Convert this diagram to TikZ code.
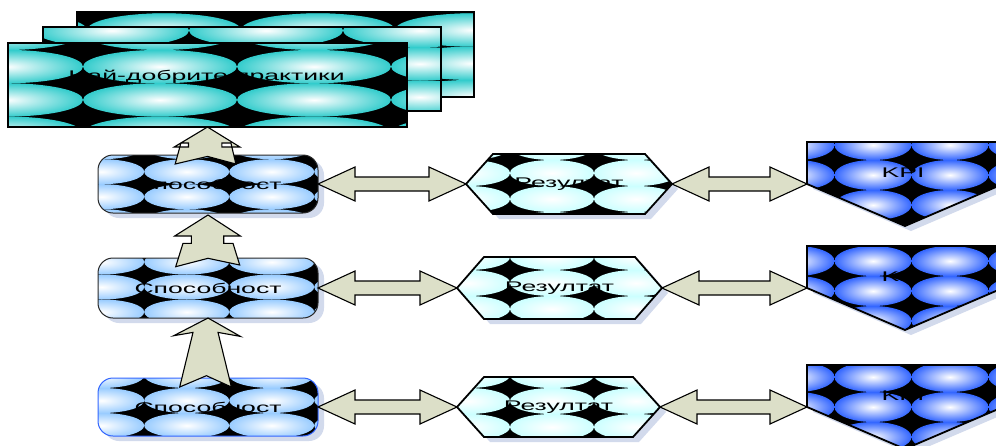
\documentclass[tikz,border=0pt]{standalone}
\usepackage{fontspec}
\newfontfamily\lblfont[FakeStretch=1.9]{Liberation Sans}
\usetikzlibrary{calc}
\definecolor{teal1}{RGB}{51,204,204}
\definecolor{capblue}{RGB}{153,204,255}
\definecolor{hexcyan}{RGB}{204,255,255}
\definecolor{kpiblue}{RGB}{51,102,255}
\definecolor{arrowfill}{RGB}{220,223,200}
\definecolor{shadowcol}{RGB}{210,218,236}
\definecolor{capedge}{RGB}{40,40,40}
\definecolor{capedgeblue}{RGB}{51,102,255}

\tikzset{
  geom/.style={inner sep=0pt, outer sep=0pt, draw=none},
  lbl/.style={inner sep=0pt, font=\lblfont\fontsize{14}{16}\selectfont, text=black},
  blockarrow/.style={draw=black, line width=1.1pt, fill=arrowfill, line join=miter},
  shapeline/.style={draw=black, line width=1.8pt},
}

\newcommand{\setgrid}[5]{\def\gdx{#1}\def\gdy{#2}\def\grx{#3}\def\gry{#4}\def\gcol{#5}}
\newcommand{\ellgrid}[4]{%
  \foreach \gi in {0,...,#3}{%
    \foreach \gj in {0,...,#4}{%
      \shade[inner color=white, outer color=\gcol] ({#1+\gi*\gdx},{#2+\gj*\gdy}) ellipse [x radius=\grx, y radius=\gry];
    }}}

\newcommand{\rectpath}[2]{\path[#2] (#1.north west) rectangle (#1.south east);}
\newcommand{\cappath}[2]{\path[#2, rounded corners=15pt] (#1.north west) rectangle (#1.south east);}
\newcommand{\hexpath}[2]{\path[#2] (#1.west) -- ($(#1.north west)+(27,0)$) -- ($(#1.north east)+(-27,0)$) -- (#1.east) -- ($(#1.south east)+(-27,0)$) -- ($(#1.south west)+(27,0)$) -- cycle;}
\newcommand{\kpipath}[2]{\path[#2] (#1.north west) -- (#1.north east) -- (#1.east) -- (#1.south) -- (#1.west) -- cycle;}

\newcommand{\patshape}[6]{%
  \begin{scope}#1{#2}{clip}\fill[black] (#2.north west) rectangle (#2.south east);\ellgrid{#3}{#4}{#5}{#6}\end{scope}}

\newcommand{\dblarrow}[2]{%
  \path[blockarrow] let \p1=(#1), \p2=(#2) in
    (\x1,\y1) -- (\x1+37pt,\y1+17pt) -- (\x1+37pt,\y1+7pt) -- (\x2-37pt,\y1+7pt) -- (\x2-37pt,\y1+17pt)
    -- (\x2,\y1) -- (\x2-37pt,\y1-17pt) -- (\x2-37pt,\y1-7pt) -- (\x1+37pt,\y1-7pt) -- (\x1+37pt,\y1-17pt) -- cycle;}

\begin{document}
\begin{tikzpicture}[x=1pt,y=-1pt]
\useasboundingbox (0,0) rectangle (996,445);
\clip (0,0) rectangle (996,445);

% geometry of the shapes
\node[geom, minimum width=397pt, minimum height=85pt] (back) at (275.5,54.5) {};
\node[geom, minimum width=398pt, minimum height=84pt] (mid) at (242,69) {};
\node[geom, minimum width=399pt, minimum height=84pt] (front) at (207.5,85) {};
\node[geom, minimum width=220pt, minimum height=58pt] (cap1) at (208,184) {};
\node[geom, minimum width=220pt, minimum height=60pt] (cap2) at (208,288) {};
\node[geom, minimum width=220pt, minimum height=58pt] (cap3) at (208,407) {};
\node[geom, minimum width=206pt, minimum height=60pt] (hex1) at (569,184) {};
\node[geom, minimum width=205pt, minimum height=62pt] (hex2) at (559.5,288) {};
\node[geom, minimum width=203pt, minimum height=60pt] (hex3) at (558.5,407) {};
\node[geom, minimum width=196pt, minimum height=84pt] (kpi1) at (905,184) {};
\node[geom, minimum width=196pt, minimum height=84pt] (kpi2) at (905,288) {};
\node[geom, minimum width=196pt, minimum height=84pt] (kpi3) at (905,407) {};

% shadows
\begin{scope}[transform canvas={xshift=6pt,yshift=-5pt}]
  \cappath{cap1}{fill=shadowcol}
  \cappath{cap2}{fill=shadowcol}
  \cappath{cap3}{fill=shadowcol}
  \hexpath{hex1}{fill=shadowcol}
  \hexpath{hex2}{fill=shadowcol}
  \hexpath{hex3}{fill=shadowcol}
  \kpipath{kpi1}{fill=shadowcol}
  \kpipath{kpi2}{fill=shadowcol}
  \kpipath{kpi3}{fill=shadowcol}
\end{scope}

% stacked rectangles
\setgrid{154}{33.3}{77}{16.7}{teal1}
\patshape{\rectpath}{back}{10}{-3.3}{3}{3}
\rectpath{back}{shapeline, line width=2.2pt}
\patshape{\rectpath}{mid}{-42}{-2.8}{3}{4}
\rectpath{mid}{shapeline, line width=2.2pt}
\patshape{\rectpath}{front}{6}{33.3}{3}{3}
\rectpath{front}{shapeline, line width=2.2pt}

% capability boxes
\setgrid{85}{25}{42.5}{12.5}{capblue}
\patshape{\cappath}{cap1}{16.7}{146.7}{4}{3}
\cappath{cap1}{draw=capedge, line width=1pt}
\patshape{\cappath}{cap2}{16.7}{262}{4}{2}
\cappath{cap2}{draw=capedge, line width=1pt}
\patshape{\cappath}{cap3}{16.7}{375.5}{4}{3}
\cappath{cap3}{draw=capedgeblue, line width=1pt}

% result hexagons
\setgrid{84}{26}{42}{13}{hexcyan}
\patshape{\hexpath}{hex1}{384}{147}{4}{3}
\hexpath{hex1}{shapeline}
\patshape{\hexpath}{hex2}{384}{257}{4}{3}
\hexpath{hex2}{shapeline}
\patshape{\hexpath}{hex3}{384}{375}{4}{2}
\hexpath{hex3}{shapeline}

% KPI pentagons
\setgrid{77}{30}{38.5}{15}{kpiblue}
\patshape{\kpipath}{kpi1}{796}{145}{3}{3}
\kpipath{kpi1}{shapeline}
\patshape{\kpipath}{kpi2}{796}{261}{3}{2}
\kpipath{kpi2}{shapeline}
\patshape{\kpipath}{kpi3}{796}{377}{3}{2}
\kpipath{kpi3}{shapeline}

% texts
\node[lbl] (toptxt) at ($(front.center)+(-1,-8)$) {Най-добрите практики};
\node[lbl] (cap1t) at (cap1) {Способност};
\node[lbl] (cap2t) at (cap2) {Способност};
\node[lbl] (cap3t) at (cap3) {Способност};
\node[lbl] (hex1t) at (hex1) {Резултат};
\node[lbl] (hex2t) at (hex2) {Резултат};
\node[lbl] (hex3t) at (hex3) {Резултат};
\node[lbl] (kpi1t) at ($(kpi1.north)+(-2,31)$) {KPI};
\node[lbl] (kpi2t) at ($(kpi2.north)+(-2,31)$) {KPI};
\node[lbl] (kpi3t) at ($(kpi3.north)+(-2,31)$) {KPI};

% double block arrows
\dblarrow{cap1.east}{hex1.west}
\dblarrow{hex1.east}{kpi1.west}
\dblarrow{cap2.east}{hex2.west}
\dblarrow{hex2.east}{kpi2.west}
\dblarrow{cap3.east}{hex3.west}
\dblarrow{hex3.east}{kpi3.west}

% upward block arrows
\draw[blockarrow, even odd rule, shift={(front.south)}]
  (0,0) -- (-33.3,20) -- (-19,20) -- (-19,16) -- (-26.6,16) -- (-32.3,37) -- (0,29.4)
  -- (28.4,37) -- (23.4,16) -- (14.4,16) -- (14.4,20) -- (32.4,20) -- cycle;
\draw[blockarrow, even odd rule, shift={($(cap1.south)+(0,2)$)}]
  (0,0) -- (-33.3,21) -- (-16.6,21) -- (-16.6,28.3) -- (-25,28.3) -- (-32.3,51.7) -- (0,43.3)
  -- (31.7,50) -- (25,28.3) -- (15.7,28.3) -- (15.7,21) -- (32.4,21) -- cycle;
\draw[blockarrow, shift={(cap2.south)}]
  (0,0) -- (-34.3,17.7) -- (-15,14.4) -- (-28.3,69) -- (-1.6,57.7) -- (23.4,69)
  -- (10,14.4) -- (32.4,18.4) -- cycle;
\end{tikzpicture}
\end{document}
